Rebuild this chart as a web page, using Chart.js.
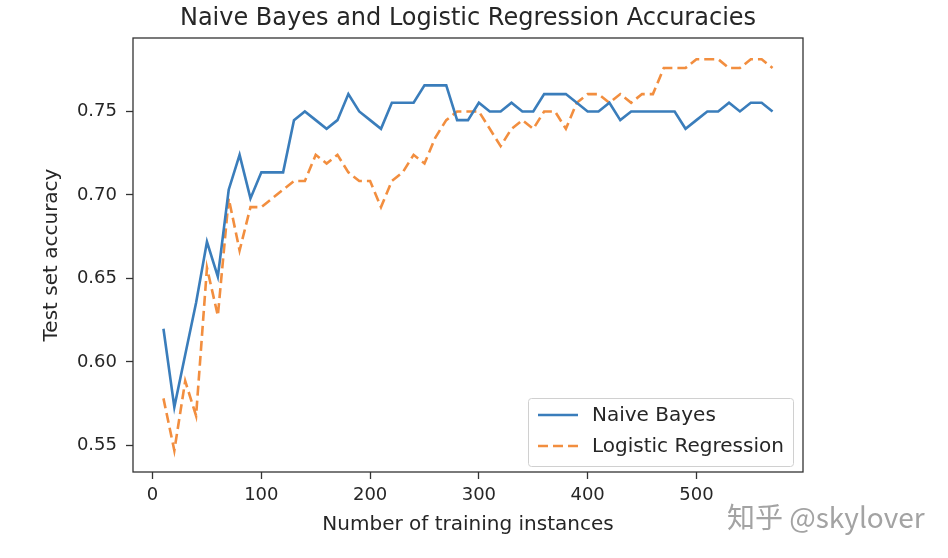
<!DOCTYPE html>
<html>
<head>
<meta charset="utf-8">
<title>Naive Bayes and Logistic Regression Accuracies</title>
<script src="https://cdn.jsdelivr.net/npm/chart.js@4.4.1/dist/chart.umd.min.js"></script>
<style>
    body { margin: 0; background: #fff; }
    #wrap { position: relative; width: 948px; height: 558px; }
    #watermark {
        position: absolute; left: 727px; top: 496px;
        font: 28px "Noto Sans CJK SC", "Noto Sans", sans-serif;
        color: #a3a3a3; white-space: nowrap;
    }
</style>
</head>
<body>
<div id="wrap">
    <canvas id="accChart" width="948" height="558"></canvas>
    <span id="watermark">知乎 @skylover</span>
</div>
<script>
// Training set sizes
const trainSizes = [10, 20, 30, 40, 50, 60, 70, 80, 90, 100,
    110, 120, 130, 140, 150, 160, 170, 180, 190, 200,
    210, 220, 230, 240, 250, 260, 270, 280, 290, 300,
    310, 320, 330, 340, 350, 360, 370, 380, 390, 400,
    410, 420, 430, 440, 450, 460, 470, 480, 490, 500,
    510, 520, 530, 540, 550, 560, 570];

// Test set accuracy, Naive Bayes
const naiveBayes = [0.6198, 0.5729, 0.6042, 0.6354, 0.6719, 0.6510, 0.7031, 0.7240, 0.6979, 0.7135,
    0.7135, 0.7135, 0.7448, 0.7500, 0.7448, 0.7396, 0.7448, 0.7604, 0.7500, 0.7448,
    0.7396, 0.7552, 0.7552, 0.7552, 0.7656, 0.7656, 0.7656, 0.7448, 0.7448, 0.7552,
    0.7500, 0.7500, 0.7552, 0.7500, 0.7500, 0.7604, 0.7604, 0.7604, 0.7552, 0.7500,
    0.7500, 0.7552, 0.7448, 0.7500, 0.7500, 0.7500, 0.7500, 0.7500, 0.7396, 0.7448,
    0.7500, 0.7500, 0.7552, 0.7500, 0.7552, 0.7552, 0.7500];

// Test set accuracy, Logistic Regression
const logisticReg = [0.5781, 0.5469, 0.5885, 0.5677, 0.6563, 0.6276, 0.6979, 0.6667, 0.6927, 0.6927,
    0.6979, 0.7031, 0.7083, 0.7083, 0.7240, 0.7188, 0.7240, 0.7135, 0.7083, 0.7083,
    0.6927, 0.7083, 0.7135, 0.7240, 0.7188, 0.7344, 0.7448, 0.7500, 0.7500, 0.7500,
    0.7396, 0.7292, 0.7396, 0.7448, 0.7396, 0.7500, 0.7500, 0.7396, 0.7552, 0.7604,
    0.7604, 0.7552, 0.7604, 0.7552, 0.7604, 0.7604, 0.7760, 0.7760, 0.7760, 0.7813,
    0.7813, 0.7813, 0.7760, 0.7760, 0.7813, 0.7813, 0.7760];

const xTicks = [0, 100, 200, 300, 400, 500];
const yTicks = [0.55, 0.60, 0.65, 0.70, 0.75];

const FONT = "'DejaVu Sans', sans-serif";
const INK = '#262626';

// matplotlib-like box around the axes
const frame = {
    id: 'frame',
    afterDatasetsDraw(chart) {
        const { ctx, chartArea: a } = chart;
        ctx.save();
        ctx.strokeStyle = '#333';
        ctx.lineWidth = 1.3;
        ctx.strokeRect(a.left, a.top, a.right - a.left, a.bottom - a.top);
        ctx.restore();
    }
};

// legend in the lower right corner of the axes
const cornerLegend = {
    id: 'cornerLegend',
    afterDraw(chart) {
        const { ctx, chartArea: a } = chart;
        const w = 265, h = 68;
        const x = a.right - 10 - w, y = a.bottom - 6 - h;
        ctx.save();
        ctx.fillStyle = 'rgba(255,255,255,0.85)';
        ctx.strokeStyle = '#d0d0d0';
        ctx.lineWidth = 1;
        ctx.beginPath();
        ctx.roundRect(x + 0.5, y + 0.5, w, h, 3);
        ctx.fill();
        ctx.stroke();
        chart.data.datasets.forEach((ds, i) => {
            const ly = y + 17 + i * 31;
            ctx.strokeStyle = ds.borderColor;
            ctx.lineWidth = ds.borderWidth;
            ctx.setLineDash(ds.borderDash || []);
            ctx.beginPath();
            ctx.moveTo(x + 10, ly);
            ctx.lineTo(x + 50, ly);
            ctx.stroke();
            ctx.setLineDash([]);
            ctx.fillStyle = INK;
            ctx.font = '20px ' + FONT;
            ctx.textBaseline = 'middle';
            ctx.fillText(ds.label, x + 64, ly + 1);
        });
        ctx.restore();
    }
};

new Chart(document.getElementById('accChart'), {
    type: 'line',
    data: {
        datasets: [
            {
                label: 'Naive Bayes',
                data: trainSizes.map((x, i) => ({ x, y: naiveBayes[i] })),
                borderColor: '#3a7dbb',
                borderWidth: 2.6,
                pointRadius: 0,
                tension: 0
            },
            {
                label: 'Logistic Regression',
                data: trainSizes.map((x, i) => ({ x, y: logisticReg[i] })),
                borderColor: '#f28e3f',
                borderWidth: 2.6,
                borderDash: [10, 5],
                pointRadius: 0,
                tension: 0
            }
        ]
    },
    options: {
        responsive: false,
        animation: false,
        layout: { padding: { left: 0, right: 145, top: 0, bottom: 0 } },
        plugins: {
            legend: { display: false },
            tooltip: { enabled: false },
            title: {
                display: true,
                fullSize: false,
                text: 'Naive Bayes and Logistic Regression Accuracies',
                color: INK,
                font: { family: FONT, size: 24, weight: 'normal' },
                padding: { top: 4, bottom: 5.2 }
            }
        },
        scales: {
            x: {
                type: 'linear',
                min: -18,
                max: 598,
                afterBuildTicks: s => { s.ticks = xTicks.map(v => ({ value: v })); },
                afterFit: s => { s.height = 86; },
                ticks: {
                    color: INK,
                    font: { family: FONT, size: 18 },
                    padding: 6,
                    maxRotation: 0
                },
                grid: { drawOnChartArea: false, drawTicks: true, tickLength: 7, color: '#333', tickWidth: 1.3 },
                border: { display: false },
                title: {
                    display: true,
                    text: 'Number of training instances',
                    color: INK,
                    font: { family: FONT, size: 20 },
                    padding: { top: 0, bottom: 21 }
                }
            },
            y: {
                type: 'linear',
                min: 0.534,
                max: 0.794,
                afterBuildTicks: s => { s.ticks = yTicks.map(v => ({ value: v })); },
                afterFit: s => { s.width = 133; },
                ticks: {
                    color: INK,
                    font: { family: FONT, size: 18 },
                    padding: 9,
                    callback: v => v.toFixed(2)
                },
                grid: { drawOnChartArea: false, drawTicks: true, tickLength: 7, color: '#333', tickWidth: 1.3 },
                border: { display: false },
                title: {
                    display: true,
                    text: 'Test set accuracy',
                    color: INK,
                    font: { family: FONT, size: 20 },
                    padding: { top: 40, bottom: 0 }
                }
            }
        }
    },
    plugins: [frame, cornerLegend]
});
</script>
</body>
</html>
